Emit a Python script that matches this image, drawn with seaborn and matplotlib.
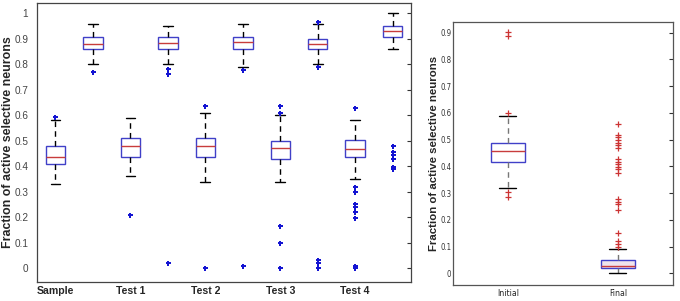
import pandas as pd
import matplotlib.pyplot as plt
import seaborn as sns

# ---------------- left panel: 10 boxes (low / high pair per phase)
slots = ["Sample a", "Sample b", "Test 1 a", "Test 1 b", "Test 2 a",
         "Test 2 b", "Test 3 a", "Test 3 b", "Test 4 a", "Test 4 b"]
phase_labels = ["Sample", "Test 1", "Test 2", "Test 3", "Test 4"]

lo_whisker = [0.33, 0.80, 0.36, 0.80, 0.34, 0.79, 0.34, 0.80, 0.349, 0.859]
q1 = [0.408, 0.859, 0.438, 0.859, 0.438, 0.859, 0.427, 0.859, 0.438, 0.908]
median = [0.438, 0.878, 0.48, 0.882, 0.48, 0.889, 0.471, 0.878, 0.469, 0.93]
q3 = [0.48, 0.908, 0.51, 0.908, 0.51, 0.908, 0.499, 0.898, 0.503, 0.95]
hi_whisker = [0.58, 0.958, 0.588, 0.95, 0.608, 0.958, 0.60, 0.958, 0.582, 1.0]
outliers = [
    [0.592],
    [0.771],
    [0.209],
    [0.78, 0.762, 0.02],
    [0.636, 0.0],
    [0.778, 0.01],
    [0.636, 0.61, 0.167, 0.10, 0.0],
    [0.967, 0.79, 0.033, 0.02, 0.0],
    [0.627, 0.32, 0.30, 0.251, 0.242, 0.221, 0.196, 0.01, 0.0],
    [0.481, 0.457, 0.444, 0.427, 0.398, 0.389],
]

# ---------------- right panel
groups = ["Initial", "Final"]
r_lo_whisker = [0.318, 0.0]
r_q1 = [0.417, 0.018]
r_median = [0.459, 0.027]
r_q3 = [0.489, 0.051]
r_hi_whisker = [0.589, 0.089]
r_outliers = [
    [0.901, 0.886, 0.599, 0.305, 0.286],
    [0.56, 0.517, 0.509, 0.499, 0.489, 0.479, 0.47, 0.426, 0.417, 0.409,
     0.399, 0.389, 0.376, 0.277, 0.267, 0.258, 0.236, 0.149, 0.121, 0.109, 0.099],
]


def box_frame(names, lo, a, m, b, hi):
    # five summary values per box -> quartiles / whisker ends via whis=(0, 100)
    rows = []
    for i, name in enumerate(names):
        for v in (lo[i], a[i], m[i], b[i], hi[i]):
            rows.append({"slot": name, "value": v})
    return pd.DataFrame(rows)


def outlier_frame(names, pts):
    rows = [{"slot": n, "value": v} for n, vals in zip(names, pts) for v in vals]
    return pd.DataFrame(rows)


sns.set_style("white")
plt.rcParams["font.family"] = ["Liberation Sans", "DejaVu Sans"]

fig = plt.figure(figsize=(6.8, 3.01), dpi=100)
ax1 = fig.add_axes([0.054, 0.064, 0.551, 0.927])
ax2 = fig.add_axes([0.666, 0.053, 0.3235, 0.874])

box_blue = "#4040c8"
med_red = "#c83c3c"

# ======================
# left panel
sns.boxplot(data=box_frame(slots, lo_whisker, q1, median, q3, hi_whisker),
            x="slot", y="value", order=slots, ax=ax1, whis=(0, 100),
            showfliers=False, width=0.52, color="white", linecolor=box_blue,
            linewidth=1.0,
            whiskerprops=dict(color="black", linestyle=(0, (4, 3))),
            capprops=dict(color="black"),
            medianprops=dict(color=med_red))
sns.stripplot(data=outlier_frame(slots, outliers), x="slot", y="value",
              order=slots, ax=ax1, jitter=False, marker="P", size=3.6,
              color="#1414d2", linewidth=0)

ax1.set_xlim(-0.5, 9.5)
ax1.set_ylim(-0.053, 1.042)
ax1.set_xticks(range(0, 10, 2))
ax1.set_xticklabels(phase_labels, fontsize=7.6, fontweight="bold")
yt = [i / 10 for i in range(11)]
ax1.set_yticks(yt)
ax1.set_yticklabels([f"{v:g}" for v in yt], fontsize=7.2, color="#444444")
ax1.tick_params(axis="x", length=0, pad=3)
ax1.tick_params(axis="y", direction="in", length=3, right=True, pad=6,
                color="#333333")
ax1.set_xlabel("")
ax1.set_ylabel("Fraction of active selective neurons", fontsize=8.9,
               fontweight="bold")
ax1.yaxis.set_label_coords(-0.061, 0.5)
for s in ax1.spines.values():
    s.set_color("#444444")
    s.set_linewidth(0.9)

# ======================
# right panel
narrow = ["DejaVu Sans Condensed", "DejaVu Sans"]
sns.boxplot(data=box_frame(groups, r_lo_whisker, r_q1, r_median, r_q3, r_hi_whisker),
            x="slot", y="value", order=groups, hue="slot",
            palette={"Initial": "white", "Final": "#f1e2ee"}, legend=False,
            ax=ax2, whis=(0, 100), showfliers=False, width=0.31,
            linecolor=box_blue, linewidth=1.0,
            whiskerprops=dict(color="#777777", linestyle=(0, (4, 3))),
            capprops=dict(color="black"),
            medianprops=dict(color=med_red))
sns.stripplot(data=outlier_frame(groups, r_outliers), x="slot", y="value",
              order=groups, ax=ax2, jitter=False, marker="+", size=4,
              color="#cc3333", linewidth=0.9)

ax2.set_xlim(-0.5, 1.5)
ax2.set_ylim(-0.044, 0.94)
ax2.set_xticks([0, 1])
ax2.set_xticklabels(groups, fontsize=6.2, family=narrow, fontstretch="condensed")
yt2 = [i / 10 for i in range(10)]
ax2.set_yticks(yt2)
ax2.set_yticklabels([f"{v:g}" for v in yt2], fontsize=5.6, family=narrow,
                    fontstretch="condensed", color="#333333")
ax2.tick_params(axis="x", length=0, pad=3)
ax2.tick_params(axis="y", direction="in", length=3, right=True, pad=1.2,
                color="#333333")
ax2.set_xlabel("")
ax2.set_ylabel("Fraction of active selective neurons", fontsize=8.2,
               fontweight="bold")
ax2.yaxis.set_label_coords(-0.062, 0.5)
for s in ax2.spines.values():
    s.set_color("#555555")
    s.set_linewidth(0.9)

fig.savefig("out.png", dpi=100)
